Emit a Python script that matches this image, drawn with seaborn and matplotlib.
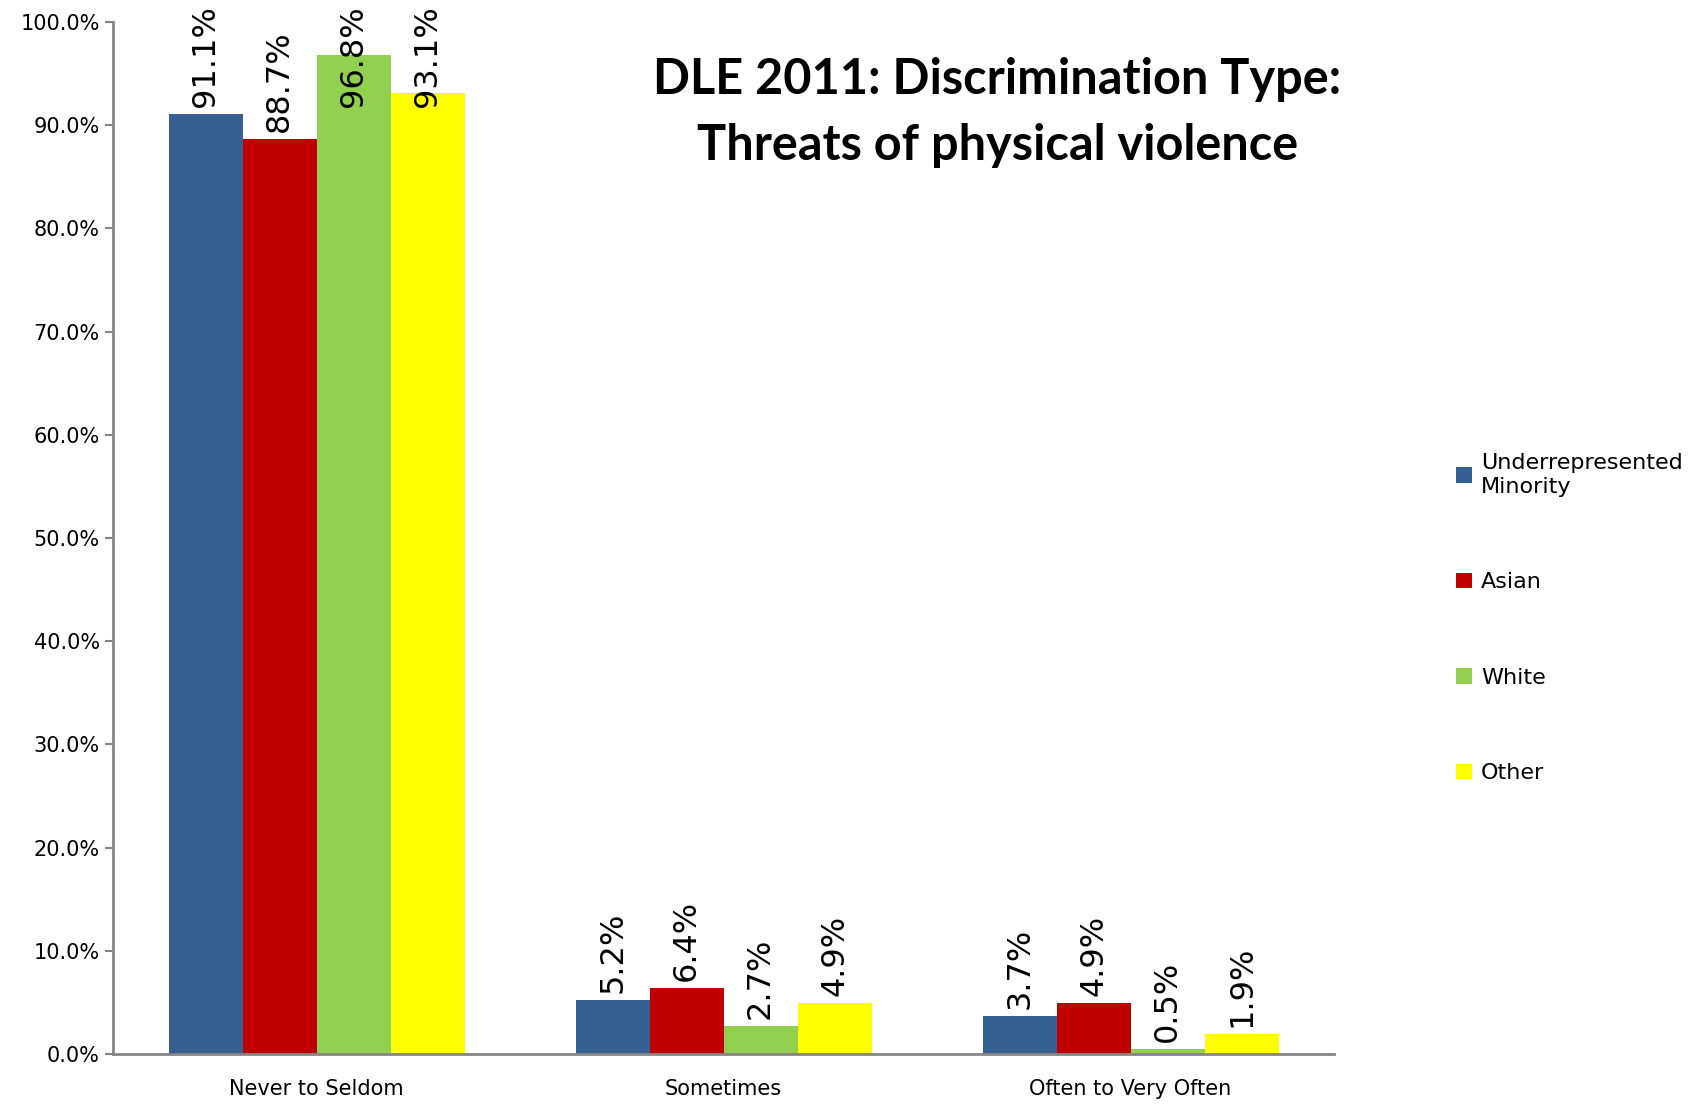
import pandas as pd
import matplotlib.pyplot as plt
import seaborn as sns

# data
categories = ["Never to Seldom", "Sometimes", "Often to Very Often"]
groups = ["Underrepresented\nMinority", "Asian", "White", "Other"]
urm = [91.1, 5.2, 3.7]
asian = [88.7, 6.4, 4.9]
white = [96.8, 2.7, 0.5]
other = [93.1, 4.9, 1.9]
colors = ["#376092", "#C00000", "#92D050", "#FFFF00"]

rows = []
for g, vals in zip(groups, [urm, asian, white, other]):
    for c, v in zip(categories, vals):
        rows.append({"Frequency": c, "Group": g, "Pct": v})
df = pd.DataFrame(rows)

sns.set_style("white")
plt.rcParams["font.family"] = ["DejaVu Sans"]
plt.rcParams["text.color"] = "black"
plt.rcParams["xtick.color"] = "black"
plt.rcParams["ytick.color"] = "black"

fig = plt.figure(figsize=(16.9, 11.04), dpi=100)
ax = fig.add_axes([0.0669, 0.0453, 0.7225, 0.9347])

sns.barplot(data=df, x="Frequency", y="Pct", hue="Group", order=categories,
            hue_order=groups, palette=colors, width=0.727, gap=0,
            saturation=1, linewidth=0, ax=ax)

# rotated value labels, pushed down under the top like the original
for cont in ax.containers:
    for bar in cont:
        h = bar.get_height()
        ax.annotate(f"{h:.1f}%", (bar.get_x() + bar.get_width() / 2, min(h, 91.1)),
                    xytext=(0, 5), textcoords="offset points", rotation=90,
                    ha="center", va="bottom", fontsize=23, color="black",
                    annotation_clip=False)

ax.set_ylim(0, 100)
ax.set_xlim(-0.5, 2.5)
ax.set_yticks(range(0, 101, 10))
ax.set_yticklabels([f"{v:.1f}%" for v in range(0, 101, 10)], fontsize=15)
ax.set_xticks([0, 1, 2])
ax.set_xticklabels(categories, fontsize=15)
ax.set_xticks([-0.5, 0.5, 1.5, 2.5], minor=True)
ax.tick_params(axis="x", which="major", length=0, pad=18)
ax.tick_params(axis="x", which="minor", length=7, width=1.5, color="#868686", direction="out")
ax.tick_params(axis="y", length=6, width=1.5, color="#868686", left=True, direction="out")
ax.set_xlabel("")
ax.set_ylabel("")
for s in ["top", "right"]:
    ax.spines[s].set_visible(False)
for s in ["left", "bottom"]:
    ax.spines[s].set_color("#868686")
    ax.spines[s].set_linewidth(2)

handles, labels = ax.get_legend_handles_labels()
ax.legend(handles, labels, loc="center left", bbox_to_anchor=(0.85, 0.44),
          bbox_transform=fig.transFigure, frameon=False, fontsize=16,
          handlelength=0.7, handleheight=0.7, handletextpad=0.4,
          labelspacing=3.4)

fig.text(0.59, 0.898, "DLE 2011: Discrimination Type:\nThreats of physical violence",
         ha="center", va="center", fontsize=35, fontweight="bold",
         family=["Lato", "DejaVu Sans"], linespacing=1.55)

fig.savefig("out.png", dpi=100)
